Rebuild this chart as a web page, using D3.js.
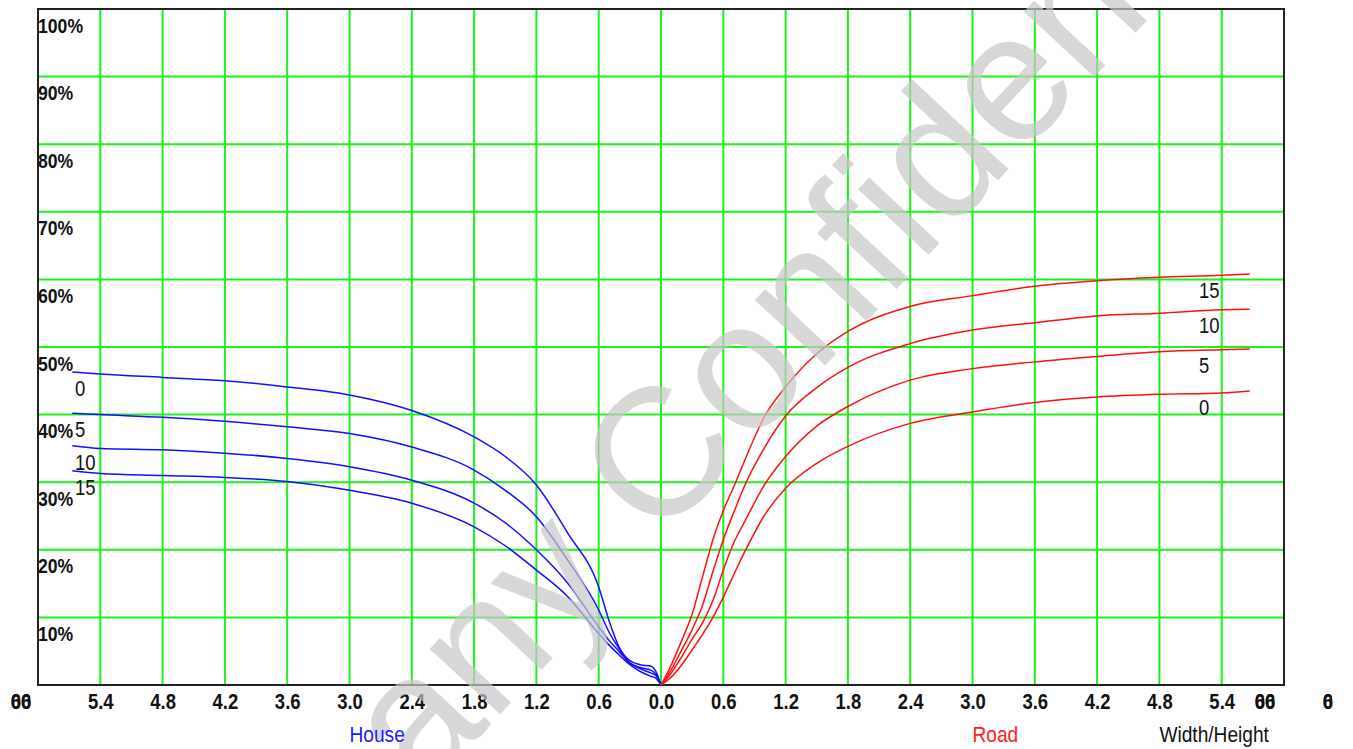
<!DOCTYPE html>
<html>
<head>
<meta charset="utf-8">
<script src="https://cdn.jsdelivr.net/npm/d3@7"></script>
<style>
  body { margin: 0; background: #fff; }
  text { font-family: "Liberation Sans", Arial, sans-serif; }
</style>
</head>
<body>
<div id="main"></div>
<script>

// ratio (x) values
var houseX = [0, 0.05, 0.1, 0.2, 0.3, 0.4, 0.5, 0.6, 0.9, 1.2, 1.5, 1.8, 2.4, 3.0, 3.6, 4.2, 4.8, 5.4, 5.67];
var house0 = [0, 2.0, 2.8, 3.0, 3.6, 5.5, 9.5, 14.5, 22.5, 29.6, 33.8, 36.7, 40.6, 42.9, 44.1, 45.0, 45.5, 46.0, 46.3];
var house5 = [0, 1.6, 2.2, 2.6, 3.3, 5.3, 7.8, 11.1, 18.5, 24.9, 28.8, 31.8, 35.2, 37.2, 38.2, 39.0, 39.6, 40.0, 40.2];
var house10 = [0, 1.4, 1.8, 2.4, 3.2, 4.9, 6.6, 8.6, 15.1, 20.0, 24.0, 26.9, 30.3, 32.3, 33.5, 34.3, 34.8, 35.0, 35.4];
var house15 = [0, 1.0, 1.3, 2.0, 3.0, 4.4, 5.9, 7.6, 13.1, 17.0, 20.6, 23.4, 26.9, 28.8, 30.1, 30.7, 31.0, 31.3, 31.7];

var roadX = [0, 0.1, 0.2, 0.3, 0.4, 0.5, 0.6, 0.7, 0.8, 1.0, 1.2, 1.5, 1.8, 2.4, 3.0, 3.6, 4.2, 4.8, 5.4, 5.67];
var road0 = [0, 1.2, 3.0, 5.2, 7.5, 10.0, 13.0, 16.3, 19.5, 25.2, 29.1, 32.8, 35.3, 38.7, 40.4, 41.8, 42.6, 43.0, 43.2, 43.5];
var road5 = [0, 1.8, 4.2, 6.8, 9.2, 12.5, 17.0, 21.0, 24.0, 29.7, 33.8, 38.3, 41.2, 45.1, 46.8, 47.8, 48.6, 49.3, 49.6, 49.7];
var road10 = [0, 2.3, 5.2, 8.2, 11.8, 16.8, 21.5, 25.5, 29.3, 35.2, 39.8, 44.0, 47.0, 50.5, 52.5, 53.6, 54.6, 55.0, 55.5, 55.6];
var road15 = [0, 3.0, 6.6, 10.5, 16.0, 21.5, 25.8, 29.3, 33.0, 39.8, 44.1, 49.0, 52.3, 56.0, 57.6, 59.0, 59.8, 60.3, 60.6, 60.8];

var curveNames = ["0", "5", "10", "15"];
var xTickLabels = ["5.4", "4.8", "4.2", "3.6", "3.0", "2.4", "1.8", "1.2", "0.6", "0.0",
                   "0.6", "1.2", "1.8", "2.4", "3.0", "3.6", "4.2", "4.8", "5.4"];
var yTicks = [10, 20, 30, 40, 50, 60, 70, 80, 90, 100];

var margin = { top: 9, right: 69, bottom: 64, left: 38 },
  width = 1353 - margin.left - margin.right,
  height = 749 - margin.top - margin.bottom;

var svg = d3.select('#main')
  .append("svg")
  .attr('width', 1353)
  .attr('height', 749)
  .append("g")
  .attr("transform", "translate(" + margin.left + "," + margin.top + ")");

var xScale = d3.scaleLinear().domain([-6, 6]).range([0, width]);
var yScale = d3.scaleLinear().domain([0, 100]).range([height, 0]);

var xTickValues = d3.range(-9, 10).map(i => i * 0.6);

// no narrow font installed, so squeeze the text sideways
function squeeze(sel, k) {
  sel.each(function () {
    var t = d3.select(this);
    var x = +t.attr('x') || 0, y = +t.attr('y') || 0;
    t.attr('x', 0).attr('y', 0)
      .attr('transform', 'translate(' + x + ',' + y + ') scale(' + k + ',1)');
  });
}

// grid
svg.selectAll('.vgrid').data(xTickValues).enter()
  .append('line')
  .attr('class', 'vgrid')
  .attr('x1', d => xScale(d)).attr('x2', d => xScale(d))
  .attr('y1', 0).attr('y2', height)
  .attr('stroke', '#1ef01e').attr('stroke-width', 2);

svg.selectAll('.hgrid').data(yTicks.slice(0, -1)).enter()
  .append('line')
  .attr('class', 'hgrid')
  .attr('x1', 0).attr('x2', width)
  .attr('y1', d => yScale(d)).attr('y2', d => yScale(d))
  .attr('stroke', '#1ef01e').attr('stroke-width', 2);

svg.append('rect')
  .attr('width', width).attr('height', height)
  .attr('fill', 'none')
  .attr('stroke', '#222').attr('stroke-width', 2);

// y labels inside the frame
var yAxis = svg.append("g")
  .call(d3.axisRight(yScale).tickValues(yTicks).tickSize(0).tickPadding(0).tickFormat(d => d + "%"));
yAxis.select('.domain').remove();
yAxis.selectAll('text')
  .attr('dy', 0).attr('y', 23)
  .style('font-size', '21px').style('font-weight', 'bold').attr('fill', '#111')
  .call(squeeze, 0.84);

// x labels
var xAxis = svg.append("g")
  .attr("transform", "translate(0," + height + ")")
  .call(d3.axisBottom(xScale).tickValues(xTickValues).tickSize(0).tickPadding(0)
    .tickFormat((d, i) => xTickLabels[i]));
xAxis.select('.domain').remove();
xAxis.selectAll('text')
  .attr('dy', 0).attr('y', 24)
  .style('font-size', '22px').style('font-weight', 'bold').attr('fill', '#111')
  .call(squeeze, 0.84);

// the garbled 6.0 labels at the ends
[[-17, "60"], [-17, "06"], [1227, "60"], [1227, "06"], [1290, "6"], [1290, "0"]].forEach(p => {
  svg.append('text')
    .attr('x', p[0]).attr('y', height + 24)
    .attr('text-anchor', 'middle')
    .style('font-size', '22px').style('font-weight', 'bold')
    .attr('fill', '#111')
    .text(p[1])
    .call(squeeze, 0.84);
});

// curves
var line = d3.line()
  .x(d => xScale(d[0]))
  .y(d => yScale(d[1]))
  .curve(d3.curveMonotoneX);

var houseSeries = [house0, house5, house10, house15];
var roadSeries = [road0, road5, road10, road15];

houseSeries.forEach(vals => {
  svg.append('path')
    .datum(houseX.map((x, i) => [-x, vals[i]]).reverse())
    .attr('d', line)
    .attr('fill', 'none')
    .attr('stroke', '#1010ff')
    .attr('stroke-width', 1.5);
});

roadSeries.forEach(vals => {
  svg.append('path')
    .datum(roadX.map((x, i) => [x, vals[i]]))
    .attr('d', line)
    .attr('fill', 'none')
    .attr('stroke', '#ff1010')
    .attr('stroke-width', 1.5);
});

// curve names
svg.selectAll('.house-label').data(curveNames).enter()
  .append('text')
  .attr('class', 'house-label')
  .attr('x', 37)
  .attr('y', (d, i) => yScale(houseSeries[i][houseSeries[i].length - 1]) + 24)
  .style('font-size', '22px')
  .attr('fill', '#111')
  .text(d => d)
  .call(squeeze, 0.84);

svg.selectAll('.road-label').data(curveNames).enter()
  .append('text')
  .attr('class', 'road-label')
  .attr('x', 1161)
  .attr('y', (d, i) => yScale(roadSeries[i][roadSeries[i].length - 1]) + 24)
  .style('font-size', '22px')
  .attr('fill', '#111')
  .text(d => d)
  .call(squeeze, 0.84);

// watermark
var wm = d3.select('svg').append('g')
  .attr('transform', 'translate(658,545) rotate(-47)')
  .style('fill', '#c8c8c8')
  .style('opacity', 0.7);
wm.append('text')
  .attr('x', -52).attr('text-anchor', 'end')
  .style('font-size', '182px')
  .text('Company');
wm.append('text')
  .attr('x', 0)
  .style('font-size', '182px')
  .text('Confidential');

// axis titles (kept above the watermark)
var titles = d3.select('svg').append('g')
  .attr("transform", "translate(" + margin.left + "," + margin.top + ")");

titles.append('text')
  .attr('x', xScale(-3)).attr('y', height + 57)
  .style('font-size', '22px')
  .attr('fill', '#2020ff')
  .text('House')
  .call(squeeze, 0.87);

titles.append('text')
  .attr('x', xScale(3)).attr('y', height + 57)
  .style('font-size', '22px')
  .attr('fill', '#ff2020')
  .text('Road')
  .call(squeeze, 0.87);

titles.append('text')
  .attr('x', xScale(4.8)).attr('y', height + 57)
  .style('font-size', '22px')
  .attr('fill', '#111')
  .text('Width/Height')
  .call(squeeze, 0.87);

</script>
</body>
</html>
